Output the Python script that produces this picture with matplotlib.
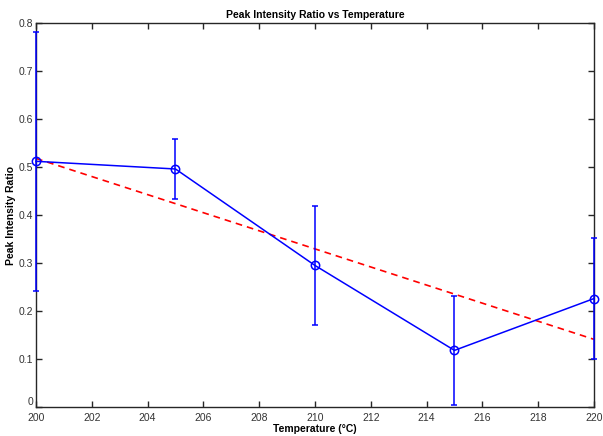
import matplotlib
matplotlib.use('Agg')
import matplotlib.pyplot as plt

plt.rcParams['font.family'] = ['Liberation Sans', 'DejaVu Sans']

# data
temp = [200, 205, 210, 215, 220]
ratio = [0.512, 0.496, 0.295, 0.118, 0.226]
err = [0.270, 0.063, 0.124, 0.114, 0.126]
fit_x = [200, 220]
fit_y = [0.518, 0.141]

fig = plt.figure(figsize=(6.03, 4.36), dpi=100)
ax = fig.add_axes([0.0597, 0.0665, 0.9253, 0.8805])

ax.plot(fit_x, fit_y, linestyle='--', color='red', linewidth=1.2, dashes=(4, 3))
ax.errorbar(temp, ratio, yerr=err, color='blue', linewidth=1.1, marker='o',
            markersize=6, markerfacecolor='none', markeredgewidth=1.1,
            capsize=2.5, capthick=1.1, clip_on=False, zorder=3)

ax.set_xlim(200, 220)
ax.set_ylim(0, 0.8)
ax.set_xticks(range(200, 221, 2))
ax.set_yticks([0, 0.1, 0.2, 0.3, 0.4, 0.5, 0.6, 0.7, 0.8])
ax.set_yticklabels(['0', '0.1', '0.2', '0.3', '0.4', '0.5', '0.6', '0.7', '0.8'])
ax.tick_params(direction='in', top=True, right=True, length=4, width=1,
               labelsize=7.5, colors='#262626', labelcolor='#333333', pad=2)
ax.tick_params(axis='x', pad=4)
# nudge the "0" label up a touch so it clears "200"
ax.get_yticklabels()[0].set_va('bottom')
for s in ax.spines.values():
    s.set_color('#262626')
    s.set_linewidth(1)

ax.set_title('Peak Intensity Ratio vs Temperature', fontsize=7.5, fontweight='bold', pad=4)
ax.set_xlabel('Temperature (\u00b0C)', fontsize=7.5, fontweight='bold', labelpad=1)
ax.set_ylabel('Peak Intensity Ratio', fontsize=7.5, fontweight='bold', labelpad=2)

fig.savefig('out.png', dpi=100)
